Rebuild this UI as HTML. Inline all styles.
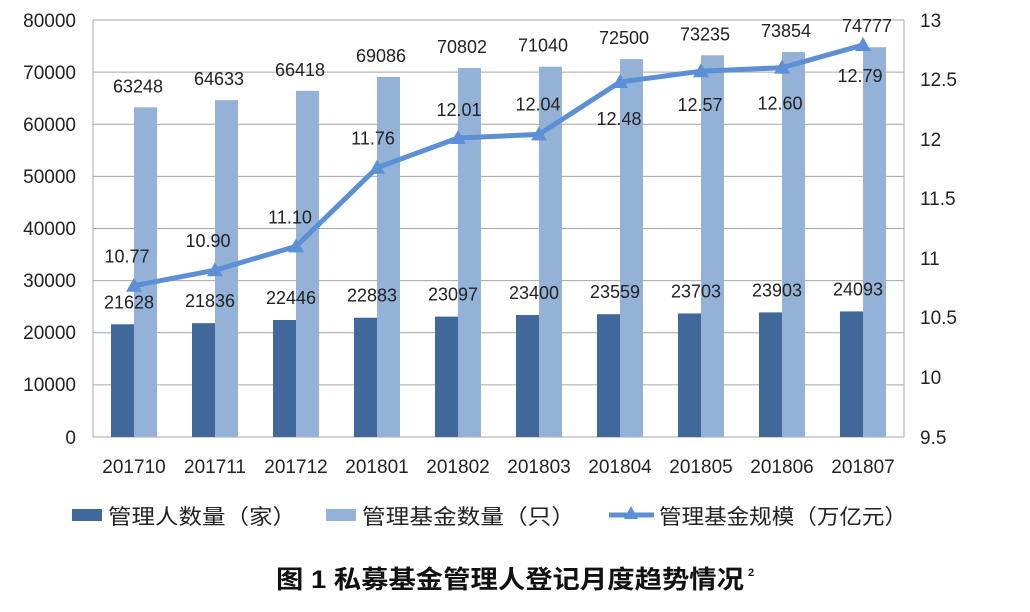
<!DOCTYPE html><html><head><meta charset="utf-8"><style>body{margin:0;background:#fff}</style></head><body>
<svg width="1030" height="607" xmlns="http://www.w3.org/2000/svg" font-family="Liberation Sans, Noto Sans CJK SC, sans-serif">
<g stroke="#a6a6a6" stroke-width="1">
<line x1="93" y1="20" x2="904" y2="20"/><line x1="93" y1="72.1" x2="904" y2="72.1"/><line x1="93" y1="124.3" x2="904" y2="124.3"/><line x1="93" y1="176.4" x2="904" y2="176.4"/><line x1="93" y1="228.5" x2="904" y2="228.5"/><line x1="93" y1="280.6" x2="904" y2="280.6"/><line x1="93" y1="332.8" x2="904" y2="332.8"/><line x1="93" y1="384.9" x2="904" y2="384.9"/><line x1="93" y1="437" x2="904" y2="437"/>
<line x1="93" y1="20" x2="93" y2="437"/><line x1="904" y1="20" x2="904" y2="437"/>
</g>
<g font-size="19" fill="#222" text-anchor="end">
<text x="76" y="27">80000</text><text x="76" y="79">70000</text><text x="76" y="131">60000</text><text x="76" y="183">50000</text><text x="76" y="235">40000</text><text x="76" y="287">30000</text><text x="76" y="339">20000</text><text x="76" y="391">10000</text><text x="76" y="444">0</text>
</g>
<g font-size="19" fill="#222">
<text x="920" y="27">13</text><text x="920" y="86">12.5</text><text x="920" y="146">12</text><text x="920" y="205">11.5</text><text x="920" y="265">11</text><text x="920" y="324">10.5</text><text x="920" y="384">10</text><text x="920" y="444">9.5</text>
</g>
<g id="bars"></g>
<g font-size="19" fill="#222" text-anchor="middle" id="xl"></g>
<polyline id="ln" fill="none" stroke="#5b8fd6" stroke-width="5" stroke-linejoin="round"/>
<g id="mk" fill="#5b8fd6"></g>
<g font-size="18" fill="#222" text-anchor="middle" id="lb"></g>
<g font-size="21" fill="#222">
<rect x="72" y="509" width="30" height="12" fill="#41689a"/><text x="108" y="524" textLength="188" lengthAdjust="spacingAndGlyphs">管理人数量（家）</text>
<rect x="326" y="509" width="30" height="12" fill="#94b2d8"/><text x="362" y="524" textLength="213" lengthAdjust="spacingAndGlyphs">管理基金数量（只）</text>
<line x1="609" y1="515" x2="654" y2="515" stroke="#5b8fd6" stroke-width="5"/><polygon points="631,506 624,519 638,519" fill="#5b8fd6"/><text x="659" y="524" textLength="248" lengthAdjust="spacingAndGlyphs">管理基金规模（万亿元）</text>
</g>
<text x="276" y="588" font-size="25" font-weight="bold" fill="#111" textLength="468" lengthAdjust="spacingAndGlyphs">图 1  私募基金管理人登记月度趋势情况</text><text x="748" y="576" font-size="11" font-weight="bold" fill="#111">2</text>
<script>
var ns="http://www.w3.org/2000/svg";
var m=[21628,21836,22446,22883,23097,23400,23559,23703,23903,24093];
var f=[63248,64633,66418,69086,70802,71040,72500,73235,73854,74777];
var s=[10.77,10.90,11.10,11.76,12.01,12.04,12.48,12.57,12.60,12.79];
var xs=["201710","201711","201712","201801","201802","201803","201804","201805","201806","201807"];
var lo=[[-7,-23],[-7,-23],[-6,-23],[-4,-23],[1,-22],[-1,-24],[-1,43],[-1,40],[-2,42],[-3,37]];
function el(n,a,p,t){var e=document.createElementNS(ns,n);for(var k in a)e.setAttribute(k,a[k]);if(t)e.textContent=t;document.getElementById(p).appendChild(e);}
var pts=[];
for(var i=0;i<10;i++){var c=134+81*i;
var ym=437-m[i]*0.0052125,yf=437-f[i]*0.0052125,ys=437-(s[i]-9.5)*119.14;
el("rect",{x:c-23,y:ym,width:23,height:437-ym,fill:"#41689a"},"bars");
el("rect",{x:c,y:yf,width:23,height:437-yf,fill:"#94b2d8"},"bars");
el("text",{x:c,y:473},"xl",xs[i]);
el("text",{x:c-5,y:ym-16},"lb",m[i]);
el("text",{x:c+4,y:yf-15},"lb",f[i]);
el("text",{x:c+lo[i][0],y:ys+lo[i][1]},"lb",s[i].toFixed(2));
pts.push(c+","+ys.toFixed(1));
el("polygon",{points:c+","+(ys-8)+" "+(c-8)+","+(ys+6)+" "+(c+8)+","+(ys+6)},"mk");}
document.getElementById("ln").setAttribute("points",pts.join(" "));
</script>
</svg></body></html>
